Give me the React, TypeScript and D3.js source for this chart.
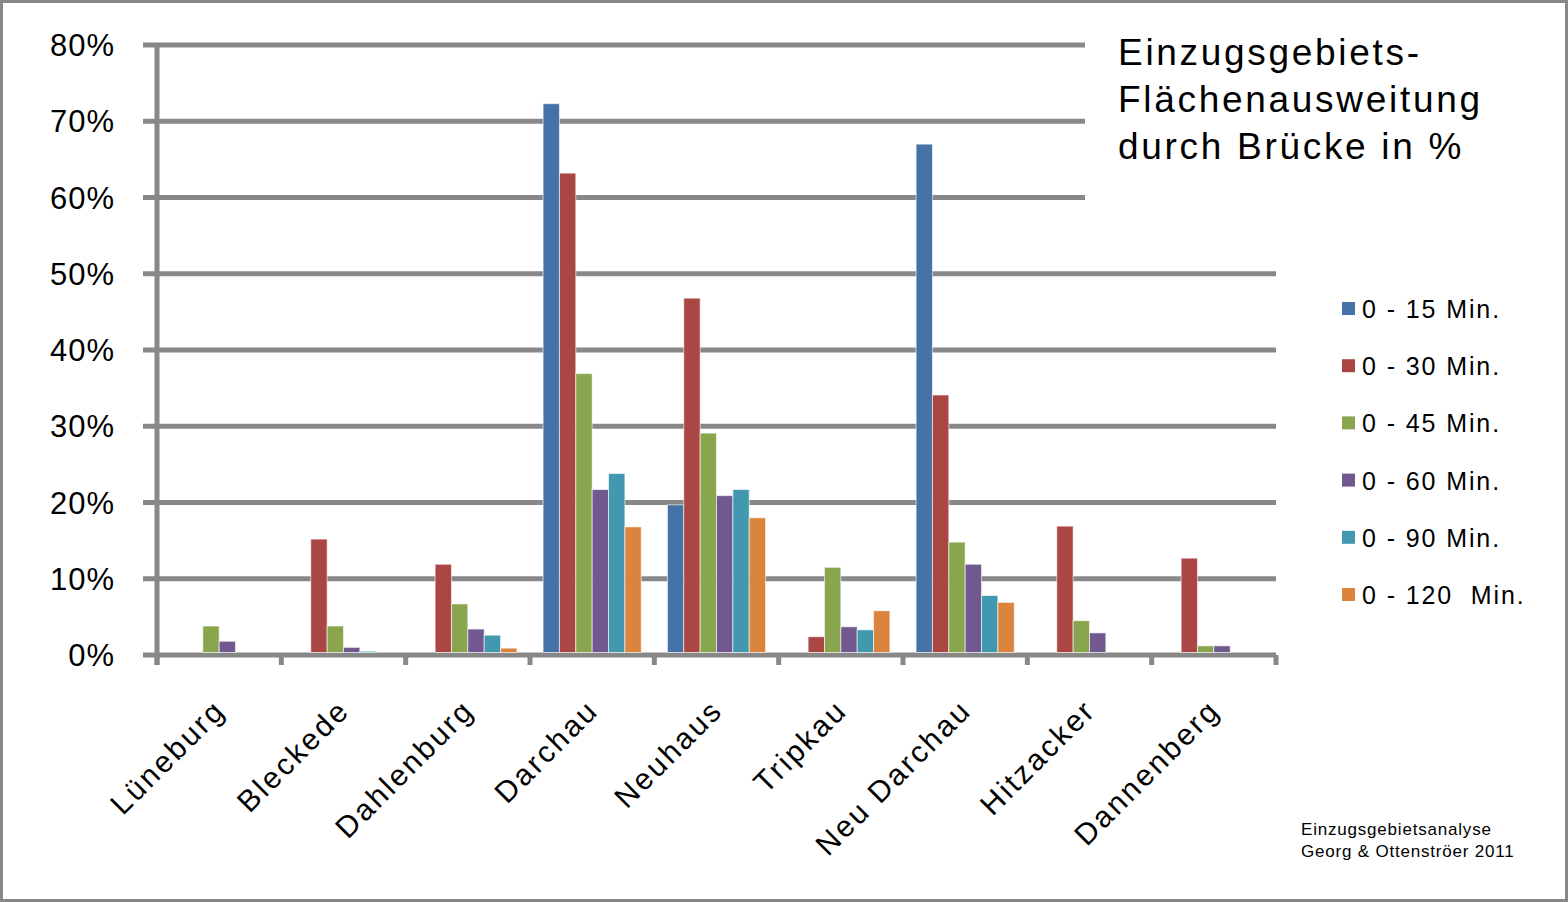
import * as d3 from "d3";

const W = 1568;
const H = 902;

const categories = [
  "Lüneburg",
  "Bleckede",
  "Dahlenburg",
  "Darchau",
  "Neuhaus",
  "Tripkau",
  "Neu Darchau",
  "Hitzacker",
  "Dannenberg",
];

const seriesNames = [
  "0 - 15 Min.",
  "0 - 30 Min.",
  "0 - 45 Min.",
  "0 - 60 Min.",
  "0 - 90 Min.",
  "0 - 120  Min.",
];

const seriesColors = ["#4572A7", "#AA4643", "#89A54E", "#71588F", "#4198AF", "#DB843D"];

// values in percent, one array per series (same order as categories)
const min15 = [0, 0, 0, 72.3, 19.7, 0, 67.0, 0, 0];
const min30 = [0, 15.2, 11.9, 63.2, 46.8, 2.4, 34.1, 16.9, 12.7];
const min45 = [3.8, 3.8, 6.7, 36.9, 29.1, 11.5, 14.8, 4.5, 1.2];
const min60 = [1.8, 1.0, 3.4, 21.7, 20.9, 3.7, 11.9, 2.9, 1.2];
const min90 = [0, 0.5, 2.6, 23.8, 21.7, 3.3, 7.8, 0, 0];
const min120 = [0, 0, 0.9, 16.8, 18.0, 5.8, 6.9, 0, 0];

const seriesValues = [min15, min30, min45, min60, min90, min120];

const yTicks = [0, 10, 20, 30, 40, 50, 60, 70, 80];

const titleLines = ["Einzugsgebiets-", "Flächenausweitung", "durch Brücke in %"];
const footerLines = ["Einzugsgebietsanalyse", "Georg & Ottenströer 2011"];

const FONT = "'Liberation Sans', Arial, sans-serif";
const GRID = "#888888";

export default function App() {
  const plotLeft = 157;
  const plotRight = 1276;
  const y = d3.scaleLinear().domain([0, 80]).range([655, 45]);
  const x0 = d3.scaleBand<string>().domain(categories).range([plotLeft, plotRight]);
  const x1 = d3
    .scaleBand<string>()
    .domain(seriesNames)
    .range([0, x0.bandwidth()])
    .paddingOuter(0.8);

  return (
    <svg
      width={W}
      height={H}
      style={{ position: "absolute", left: 0, top: 0, background: "#fff" }}
      fontFamily={FONT}
    >
      <rect x={1.5} y={1.5} width={W - 3} height={H - 3} fill="#fff" stroke={GRID} strokeWidth={3} />

      {/* gridlines */}
      {yTicks.map((t) => (
        <line
          key={t}
          x1={143}
          x2={plotRight}
          y1={y(t)}
          y2={y(t)}
          stroke={GRID}
          strokeWidth={5}
        />
      ))}

      {/* title box hides the top grid ends */}
      <rect x={1085} y={25} width={470} height={215} fill="#fff" />

      {/* y axis and category ticks */}
      <line x1={plotLeft} x2={plotLeft} y1={y(80) - 2} y2={y(0) + 10} stroke={GRID} strokeWidth={5} />
      {categories.map((c) => (
        <line
          key={c}
          x1={x0(c)!}
          x2={x0(c)!}
          y1={y(0)}
          y2={y(0) + 10}
          stroke={GRID}
          strokeWidth={5}
        />
      ))}
      <line x1={plotRight} x2={plotRight} y1={y(0)} y2={y(0) + 10} stroke={GRID} strokeWidth={5} />

      {/* bars */}
      {seriesValues.map((vals, si) => (
        <g key={si} fill={seriesColors[si]}>
          {vals.map((v, ci) =>
            v > 0 ? (
              <rect
                key={ci}
                x={x0(categories[ci])! + x1(seriesNames[si])!}
                y={y(v)}
                width={x1.bandwidth()}
                height={y(0) - 2.5 - y(v)}
                stroke="#ffffff"
                strokeOpacity={0.6}
                strokeWidth={1}
              />
            ) : null
          )}
        </g>
      ))}

      {/* y tick labels */}
      {yTicks.map((t) => (
        <text
          key={t}
          x={115}
          y={y(t)}
          dy="0.36em"
          textAnchor="end"
          fontSize={31}
          letterSpacing={1}
          fill="#000"
        >
          {`${t}%`}
        </text>
      ))}

      {/* x labels */}
      {categories.map((c) => {
        const cx = x0(c)! + x0.bandwidth() / 2 + 8;
        const cy = 712;
        return (
          <text
            key={c}
            x={cx}
            y={cy}
            transform={`rotate(-45, ${cx}, ${cy})`}
            textAnchor="end"
            fontSize={30}
            letterSpacing={2.6}
            fill="#000"
          >
            {c}
          </text>
        );
      })}

      {/* title */}
      {titleLines.map((l, i) => (
        <text
          key={l}
          x={1118}
          y={65 + i * 47}
          fontSize={37}
          letterSpacing={2.7}
          fill="#000"
        >
          {l}
        </text>
      ))}

      {/* legend */}
      {seriesNames.map((s, i) => {
        const ly = 309 + i * 57.2;
        return (
          <g key={s}>
            <rect x={1342} y={ly - 7} width={13} height={13} fill={seriesColors[i]} />
            <text
              x={1362}
              y={ly}
              dy="0.36em"
              fontSize={25}
              letterSpacing={1.9}
              fill="#000"
              xmlSpace="preserve"
            >
              {s}
            </text>
          </g>
        );
      })}

      {/* footer */}
      {footerLines.map((l, i) => (
        <text key={l} x={1301} y={835 + i * 22} fontSize={17} letterSpacing={0.8} fill="#000">
          {l}
        </text>
      ))}
    </svg>
  );
}
